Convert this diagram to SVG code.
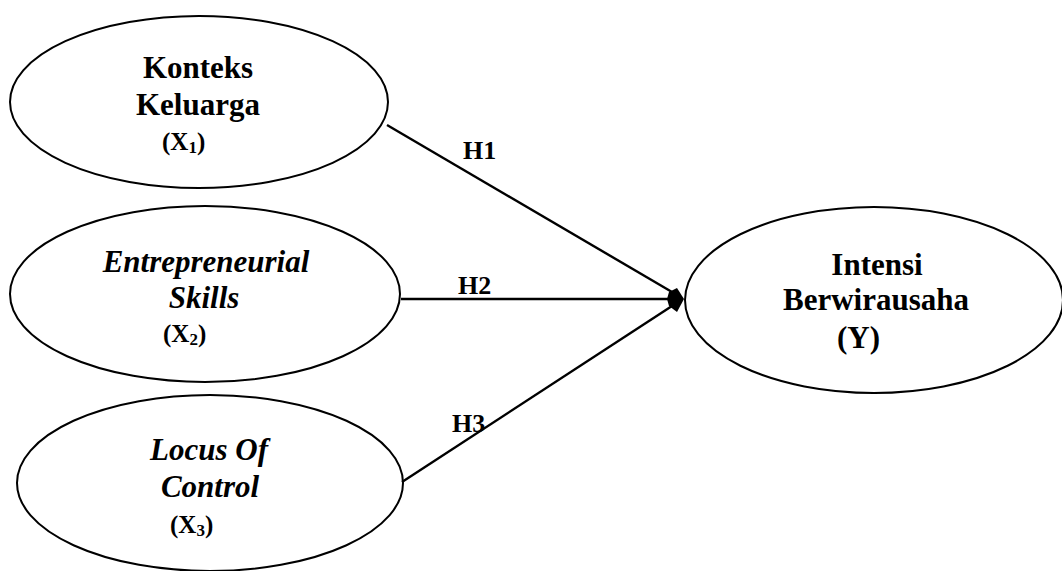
<svg xmlns="http://www.w3.org/2000/svg" width="1062" height="571" viewBox="0 0 1062 571">
<style>
.node ellipse{fill:#fff;stroke:#000;stroke-width:2}
.t{font-family:"Liberation Serif","Times New Roman",serif;font-weight:bold;fill:#000;font-size:31px}
.i{font-style:italic}
.x{font-size:25px}
.lbl{font-family:"Liberation Serif","Times New Roman",serif;font-weight:bold;font-size:26px;fill:#000}
.conn line{stroke:#000;stroke-width:2.4;fill:none}
.head{fill:#000}
</style>
<g id="x1" class="node">
<ellipse cx="199" cy="102" rx="189" ry="86"/>
<text class="t" x="198" y="78" text-anchor="middle">Konteks</text>
<text class="t" x="198" y="115" text-anchor="middle">Keluarga</text>
<text class="t x" x="162" y="150">(X<tspan font-size="17" dy="3">1</tspan><tspan dy="-3">)</tspan></text>
</g>
<g id="x2" class="node">
<ellipse cx="205" cy="294" rx="195" ry="88"/>
<text class="t i" x="206" y="272" text-anchor="middle">Entrepreneurial</text>
<text class="t i" x="204" y="308" text-anchor="middle">Skills</text>
<text class="t x" x="163" y="342">(X<tspan font-size="17" dy="3">2</tspan><tspan dy="-3">)</tspan></text>
</g>
<g id="x3" class="node">
<ellipse cx="210" cy="483" rx="193" ry="88"/>
<text class="t i" x="209" y="460" text-anchor="middle">Locus Of</text>
<text class="t i" x="210" y="497" text-anchor="middle">Control</text>
<text class="t x" x="170" y="533">(X<tspan font-size="17" dy="3">3</tspan><tspan dy="-3">)</tspan></text>
</g>
<g id="y" class="node">
<ellipse cx="874" cy="300" rx="189" ry="93"/>
<text class="t" x="877" y="275" text-anchor="middle">Intensi</text>
<text class="t" x="876" y="310" text-anchor="middle">Berwirausaha</text>
<text class="t" x="837" y="348" font-size="27">(Y)</text>
</g>
<g id="connectors" class="conn">
<line x1="387" y1="125" x2="672" y2="292"/>
<line x1="401" y1="299" x2="672" y2="299"/>
<line x1="402" y1="482" x2="672" y2="306"/>
<polygon class="head" points="684,299 677,288 669,292 667,299 669,306 677,312"/>
</g>
<g id="labels">
<text class="lbl" x="463" y="159">H1</text>
<text class="lbl" x="458" y="294">H2</text>
<text class="lbl" x="452" y="432">H3</text>
</g>
</svg>
